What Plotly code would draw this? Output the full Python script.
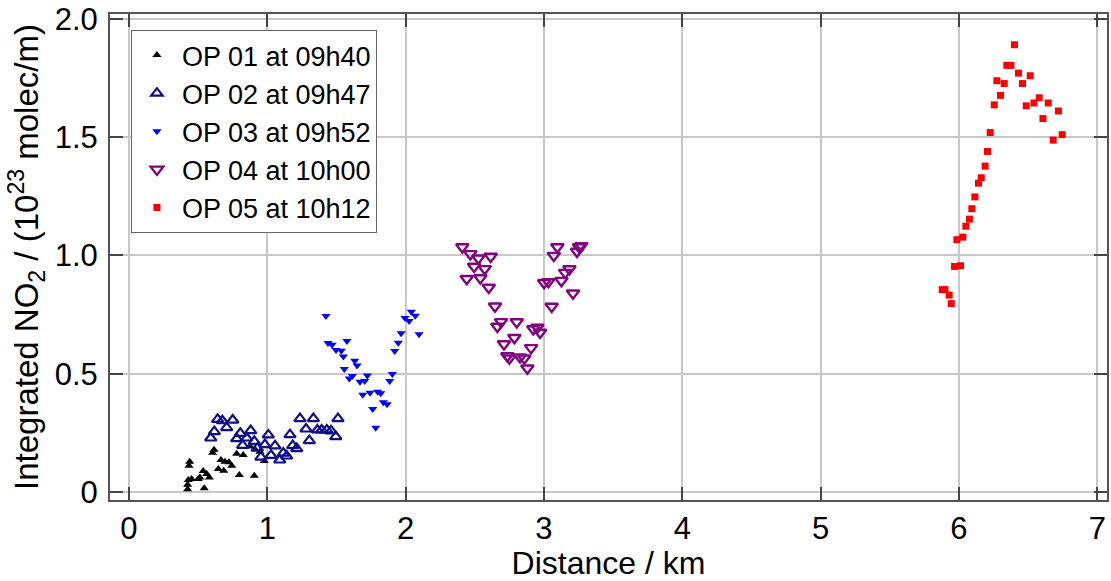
import plotly.graph_objects as go

# OP 01 at 09h40
op01_x = [0.439, 0.434, 0.429, 0.424, 0.424, 0.453, 0.513, 0.501, 0.544, 0.537, 0.562, 0.581,
          0.615, 0.605, 0.665, 0.694, 0.723, 0.743, 0.646, 0.685, 0.779, 0.826, 0.798, 0.906,
          0.875, 0.911, 0.947, 0.978]
op01_y = [0.128, 0.111, 0.051, 0.030, 0.011, 0.055, 0.061, 0.055, 0.016, 0.089, 0.076, 0.061,
          0.178, 0.166, 0.135, 0.128, 0.126, 0.111, 0.097, 0.090, 0.161, 0.156, 0.072, 0.068,
          0.192, 0.181, 0.170, 0.131]

# OP 02 at 09h47
op02_x = [0.641, 0.675, 0.750, 0.617, 0.591, 0.706, 0.805, 0.880, 0.779, 0.851, 0.822, 0.906,
          0.928, 1.007, 0.983, 0.954, 1.027, 1.056, 1.090, 1.116, 1.140, 1.164, 1.184, 1.213,
          1.236, 1.280, 1.333, 1.304, 1.362, 1.393, 1.430, 1.461, 1.495, 1.511]
op02_y = [0.307, 0.301, 0.304, 0.255, 0.228, 0.272, 0.248, 0.259, 0.225, 0.228, 0.197, 0.214,
          0.185, 0.241, 0.200, 0.147, 0.155, 0.195, 0.135, 0.164, 0.152, 0.242, 0.196, 0.183,
          0.310, 0.266, 0.310, 0.217, 0.262, 0.262, 0.262, 0.258, 0.234, 0.310]

# OP 03 at 09h52
op03_x = [1.424, 1.439, 1.468, 1.497, 1.535, 1.550, 1.576, 1.557, 1.632, 1.649, 1.615, 1.593,
          1.723, 1.704, 1.670, 1.904, 1.885, 1.690, 1.743, 1.798, 1.820, 1.839, 1.866, 1.762,
          1.784, 1.921, 1.947, 1.967, 2.097, 1.996, 2.025, 2.041, 2.070]
op03_y = [0.744, 0.630, 0.622, 0.600, 0.597, 0.572, 0.638, 0.520, 0.554, 0.534, 0.490, 0.479,
          0.492, 0.469, 0.466, 0.499, 0.469, 0.411, 0.419, 0.424, 0.417, 0.379, 0.371, 0.351,
          0.271, 0.596, 0.631, 0.671, 0.667, 0.735, 0.723, 0.762, 0.745]

# OP 04 at 10h00
op04_x = [2.410, 2.468, 2.526, 2.615, 2.495, 2.572, 2.442, 2.540, 2.601, 2.646, 2.690, 2.663,
          2.803, 2.786, 2.711, 2.735, 2.750, 2.827, 2.858, 2.880, 2.907, 2.923, 2.952, 2.972,
          3.001, 3.032, 3.056, 3.071, 3.097, 3.126, 3.153, 3.184, 3.210, 3.239, 3.270, 3.254]
op04_y = [1.035, 1.006, 0.988, 0.995, 0.953, 0.943, 0.901, 0.904, 0.864, 0.785, 0.719, 0.699,
          0.718, 0.652, 0.625, 0.575, 0.565, 0.570, 0.565, 0.523, 0.609, 0.689, 0.695, 0.674,
          0.884, 0.888, 0.784, 0.999, 1.035, 0.893, 0.927, 0.942, 0.840, 1.016, 1.040, 1.035]

# OP 05 at 10h12
op05_x = [6.401, 6.346, 6.375, 6.430, 6.515, 6.274, 6.327, 6.459, 6.300, 6.580, 6.542, 6.645,
          6.486, 6.255, 6.719, 6.607, 6.746, 6.681, 6.226, 6.206, 6.189, 6.161, 6.141, 6.115,
          6.093, 6.076, 6.050, 6.028, 5.985, 6.011, 5.968, 5.879, 5.898, 5.929, 5.944]
op05_y = [1.890, 1.803, 1.803, 1.770, 1.759, 1.738, 1.726, 1.726, 1.676, 1.666, 1.644, 1.644,
          1.632, 1.636, 1.610, 1.578, 1.510, 1.487, 1.519, 1.439, 1.377, 1.328, 1.305, 1.247,
          1.197, 1.153, 1.123, 1.077, 1.066, 0.956, 0.953, 0.855, 0.855, 0.832, 0.796]

x_ticks = [0, 1, 2, 3, 4, 5, 6, 7]
y_ticks = [0, 0.5, 1.0, 1.5, 2.0]
y_tick_labels = ["0", "0.5", "1.0", "1.5", "2.0"]

fig = go.Figure()
fig.add_trace(go.Scatter(x=op01_x, y=op01_y, mode="markers", name="OP 01 at 09h40", legendgroup="g1",
                         marker=dict(symbol="triangle-up", size=8, color="black")))
fig.add_trace(go.Scatter(x=op02_x, y=op02_y, mode="markers", name="OP 02 at 09h47", legendgroup="g2",
                         marker=dict(symbol="triangle-up-open", size=10, color="#0d0d8c",
                                     line=dict(width=2.2, color="#0d0d8c"))))
fig.add_trace(go.Scatter(x=op03_x, y=op03_y, mode="markers", name="OP 03 at 09h52", legendgroup="g3",
                         marker=dict(symbol="triangle-down", size=8, color="#0000ff")))
fig.add_trace(go.Scatter(x=op04_x, y=op04_y, mode="markers", name="OP 04 at 10h00", legendgroup="g4",
                         marker=dict(symbol="triangle-down-open", size=11, color="#800080",
                                     line=dict(width=2.4, color="#800080"))))
fig.add_trace(go.Scatter(x=op05_x, y=op05_y, mode="markers", name="OP 05 at 10h12", legendgroup="g5",
                         marker=dict(symbol="square", size=7, color="#ff0000")))

axis_common = dict(showgrid=True, gridcolor="#c8c8c8", gridwidth=1.5,
                   showline=True, linecolor="#555555", linewidth=2, mirror="ticks",
                   ticks="inside", ticklen=13, tickcolor="#444444", tickwidth=1.5,
                   zeroline=False, automargin=False,
                   tickfont=dict(size=31, color="black"))

fig.update_layout(
    width=1111, height=581,
    margin=dict(l=110, r=4, t=14, b=81),
    paper_bgcolor="white", plot_bgcolor="white",
    font=dict(family="Liberation Sans, Arial, sans-serif", color="black"),
    xaxis=dict(range=[-0.137, 7.07], tickvals=x_ticks, ticklabelstandoff=0,
               title=dict(text="Distance / km", font=dict(size=32), standoff=8),
               **axis_common),
    yaxis=dict(range=[-0.034, 2.02], tickvals=y_ticks, ticktext=y_tick_labels, ticklabelstandoff=4,
               title=dict(text="Integrated NO<sub>2</sub> / (10<sup>23</sup> molec/m)",
                          font=dict(size=33), standoff=6),
               **axis_common),
    legend=dict(x=0.021, y=0.967, xanchor="left", yanchor="top",
                bgcolor="white", bordercolor="#666666", borderwidth=1,
                font=dict(size=27), itemsizing="trace", tracegroupgap=0, itemwidth=40),
    showlegend=True,
)

fig.write_html("out.html", config={"displayModeBar": False},
               post_script="document.body.style.margin='0px';document.body.style.overflow='hidden';")
